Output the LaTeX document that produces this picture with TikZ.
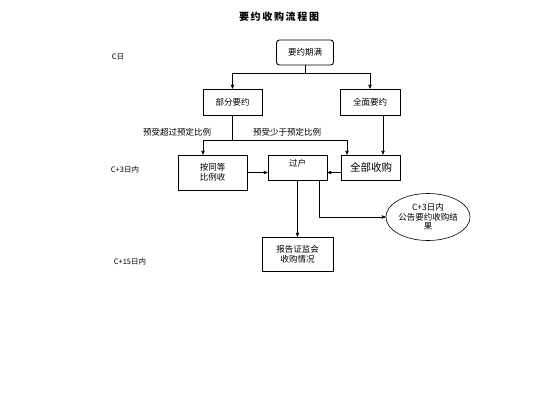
\documentclass[tikz,border=0pt]{standalone}
\usepackage{fontspec}
\newfontfamily\cjk{Noto Sans CJK SC}
\usetikzlibrary{arrows,shapes.geometric}

\begin{document}
\begin{tikzpicture}[x=1pt,y=-1pt,>=stealth',auto,
        font=\cjk\fontsize{8.5}{10}\selectfont,
        main node/.style={rectangle,draw,line width=0.9pt,inner sep=1pt,align=center},
        side text/.style={font=\cjk\fontsize{7.5}{9}\selectfont},
        link/.style={->,line width=0.5pt}]
        \useasboundingbox (0,0) rectangle (533,400);

        % title and days
        \node[font=\cjk\fontsize{10}{12}\selectfont] (title) at (279,17) {\bfseries 要\,约\,收\,购\,流\,程\,图};
        \node[side text] (d0) at (118,57) {C日};
        \node[side text] (d3) at (125,170) {C+3日内};
        \node[side text] (d15) at (130,262) {C+15日内};

        \node[main node,rounded corners=3pt,minimum width=57,minimum height=25] (end) at (305,52.5) {要约期满};
        \node[main node,minimum width=59,minimum height=26] (part) at (232.5,102) {部分要约};
        \node[main node,minimum width=60,minimum height=26] (full) at (370,102) {全面要约};
        \node[main node,minimum width=69,minimum height=35] (ratio) at (212.5,172.5) {按同等\\比例收};
        \node[main node,minimum width=59,minimum height=25,text height=6pt,text depth=9pt] (transfer) at (297.5,167.5) {过户};
        \node[main node,minimum width=59,minimum height=25,font=\cjk\fontsize{10.5}{12}\selectfont] (buyall) at (371,167.5) {全部收购};
        \node[main node,minimum width=71,minimum height=34] (report) at (297.5,254) {报告证监会\\收购情况};
        \node[ellipse,draw,line width=0.6pt,inner sep=0pt,minimum width=77,minimum height=47,align=center,
              font=\cjk\fontsize{8.5}{9.5}\selectfont] (result) at (428,217) {C+3日内\\公告要约收购结\\果};

        \coordinate (fork1) at (305,73);
        \coordinate (fork2) at (232.5,140);

        \draw[line width=0.5pt] (end) -- (fork1);
        \draw[link] (fork1) -| (part);
        \draw[link] (fork1) -| (full);
        \draw[line width=0.5pt] (part) -- (fork2);
        \draw[link] (fork2) -| ([xshift=-9.5]ratio.north);
        \draw[link] (fork2) -| ([xshift=-24]buyall.north);
        \draw[link] ([xshift=13]full.south) -- ([xshift=12]buyall.north);
        \draw[link] (ratio.east) -- (ratio.east -| transfer.west);
        \draw[link] ([yshift=-5]buyall.west) -- ([yshift=-5]transfer.east);
        \draw[link] (transfer) -- (report);
        \draw[link] ([xshift=21.5]transfer.south) |- (result);

        \path[every node/.style={font=\cjk\fontsize{8.5}{10}\selectfont}]
        (177,132) node (over) {预受超过预定比例}
        (287,132) node (under) {预受少于预定比例};
\end{tikzpicture}
\end{document}
